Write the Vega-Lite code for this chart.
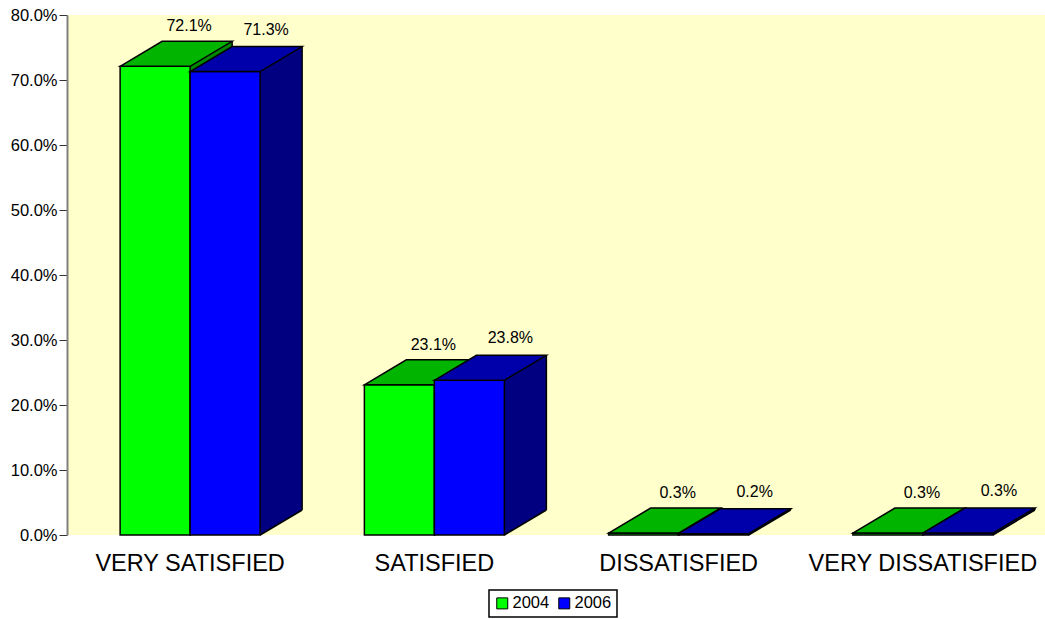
{
  "$schema": "https://vega.github.io/schema/vega-lite/v6.json",
  "width": 977,
  "height": 520,
  "autosize": {"type": "none"},
  "padding": {"left": 68, "top": 15, "right": 0, "bottom": 84},
  "background": "white",
  "config": {
    "font": "Liberation Sans",
    "view": {"fill": "#FFFFCC", "stroke": null},
    "legend": {
      "orient": "none",
      "legendX": 421,
      "legendY": 575,
      "direction": "horizontal",
      "symbolType": "square",
      "symbolSize": 121,
      "symbolStrokeColor": "black",
      "symbolStrokeWidth": 1,
      "symbolOpacity": 1,
      "labelFontSize": 16.5,
      "labelColor": "black",
      "labelOffset": 2,
      "columnPadding": 6,
      "padding": 5,
      "strokeColor": "black",
      "strokeWidth": 1.5,
      "fillColor": "white",
      "title": null
    }
  },
  "data": {
    "values": [
      {"category": "VERY SATISFIED", "year": "2004", "value": 0.721},
      {"category": "VERY SATISFIED", "year": "2006", "value": 0.713},
      {"category": "SATISFIED", "year": "2004", "value": 0.231},
      {"category": "SATISFIED", "year": "2006", "value": 0.238},
      {"category": "DISSATISFIED", "year": "2004", "value": 0.003},
      {"category": "DISSATISFIED", "year": "2006", "value": 0.002},
      {"category": "VERY DISSATISFIED", "year": "2004", "value": 0.003},
      {"category": "VERY DISSATISFIED", "year": "2006", "value": 0.003}
    ]
  },
  "encoding": {
    "x": {
      "field": "category",
      "type": "nominal",
      "sort": ["VERY SATISFIED", "SATISFIED", "DISSATISFIED", "VERY DISSATISFIED"],
      "scale": {"paddingInner": 0.4268, "paddingOuter": 0.2134},
      "title": null,
      "axis": {"domain": false, "ticks": false, "labelAngle": 0, "labelFontSize": 23.5, "labelColor": "black", "labelPadding": 16, "labelLimit": 500, "labelFont": "Liberation Sans"}
    },
    "y": {
      "field": "value",
      "type": "quantitative",
      "scale": {"domain": [0, 0.8], "nice": false},
      "title": null,
      "axis": {"values": [0, 0.1, 0.2, 0.3, 0.4, 0.5, 0.6, 0.7, 0.8], "format": ".1%", "grid": false, "domainColor": "#808080", "domainWidth": 2, "offset": 1, "tickColor": "#333333", "tickWidth": 1, "tickSize": 8, "labelPadding": 2, "labelFontSize": 16.5, "labelColor": "black", "labelFont": "Liberation Sans"}
    }
  },
  "layer": [
    {"transform": [{"filter": "datum.year == '2004'"}], "mark": {"type": "bar", "width": 42, "xOffset": 21, "yOffset": -25, "fill": "#008800", "strokeWidth": 0}, "encoding": {"y2": {"datum": 0}}},
    {"transform": [{"filter": "datum.year == '2004'"}], "mark": {"type": "point", "shape": "M35,0L77,-25L78,-25L78,0Z", "size": 4, "filled": true, "fill": "#FFFFCC", "strokeWidth": 0, "opacity": 1, "xOffset": -35}, "encoding": {"y": {"datum": 0}}},
    {"transform": [{"filter": "datum.year == '2004'"}], "mark": {"type": "rule", "xOffset": 42, "yOffset": -25, "y2Offset": -25, "stroke": "black", "strokeWidth": 1.5}, "encoding": {"y2": {"datum": 0}}},
    {"transform": [{"filter": "datum.year == '2004'"}], "mark": {"type": "point", "shape": "M35,0L77,-25", "size": 4, "filled": false, "stroke": "black", "strokeWidth": 1.5, "opacity": 1, "xOffset": -35}, "encoding": {"y": {"datum": 0}}},
    {"transform": [{"filter": "datum.year == '2004'"}], "mark": {"type": "bar", "width": 70, "xOffset": -35, "stroke": "black", "strokeWidth": 1.5, "opacity": 1}, "encoding": {"y2": {"datum": 0}, "color": {"field": "year", "type": "nominal", "scale": {"domain": ["2004", "2006"], "range": ["#00FF00", "#0000FF"]}}}},
    {"transform": [{"filter": "datum.year == '2004'"}], "mark": {"type": "point", "shape": "M-35,0L7,-25L77,-25L35,0Z", "size": 4, "filled": true, "fill": "#00B400", "stroke": "black", "strokeWidth": 1.5, "opacity": 1, "xOffset": -35}},
    {"transform": [{"filter": "datum.year == '2006'"}], "mark": {"type": "bar", "width": 42, "xOffset": 91, "yOffset": -25, "fill": "#000080", "strokeWidth": 0}, "encoding": {"y2": {"datum": 0}}},
    {"transform": [{"filter": "datum.year == '2006'"}], "mark": {"type": "point", "shape": "M35,0L77,-25L78,-25L78,0Z", "size": 4, "filled": true, "fill": "#FFFFCC", "strokeWidth": 0, "opacity": 1, "xOffset": 35}, "encoding": {"y": {"datum": 0}}},
    {"transform": [{"filter": "datum.year == '2006'"}], "mark": {"type": "rule", "xOffset": 112, "yOffset": -25, "y2Offset": -25, "stroke": "black", "strokeWidth": 1.5}, "encoding": {"y2": {"datum": 0}}},
    {"transform": [{"filter": "datum.year == '2006'"}], "mark": {"type": "point", "shape": "M35,0L77,-25", "size": 4, "filled": false, "stroke": "black", "strokeWidth": 1.5, "opacity": 1, "xOffset": 35}, "encoding": {"y": {"datum": 0}}},
    {"transform": [{"filter": "datum.year == '2006'"}], "mark": {"type": "bar", "width": 70, "xOffset": 35, "stroke": "black", "strokeWidth": 1.5, "opacity": 1}, "encoding": {"y2": {"datum": 0}, "color": {"field": "year", "type": "nominal", "scale": {"domain": ["2004", "2006"], "range": ["#00FF00", "#0000FF"]}}}},
    {"transform": [{"filter": "datum.year == '2006'"}], "mark": {"type": "point", "shape": "M-35,0L7,-25L77,-25L35,0Z", "size": 4, "filled": true, "fill": "#0000AA", "stroke": "black", "strokeWidth": 1.5, "opacity": 1, "xOffset": 35}},
    {"transform": [{"filter": "datum.year == '2004'"}], "mark": {"type": "text", "xOffset": -1, "yOffset": -35, "baseline": "alphabetic", "fontSize": 16, "color": "black"}, "encoding": {"text": {"field": "value", "type": "quantitative", "format": ".1%"}}},
    {"transform": [{"filter": "datum.year == '2006'"}], "mark": {"type": "text", "xOffset": 76, "yOffset": -37, "baseline": "alphabetic", "fontSize": 16, "color": "black"}, "encoding": {"text": {"field": "value", "type": "quantitative", "format": ".1%"}}}
  ]
}
